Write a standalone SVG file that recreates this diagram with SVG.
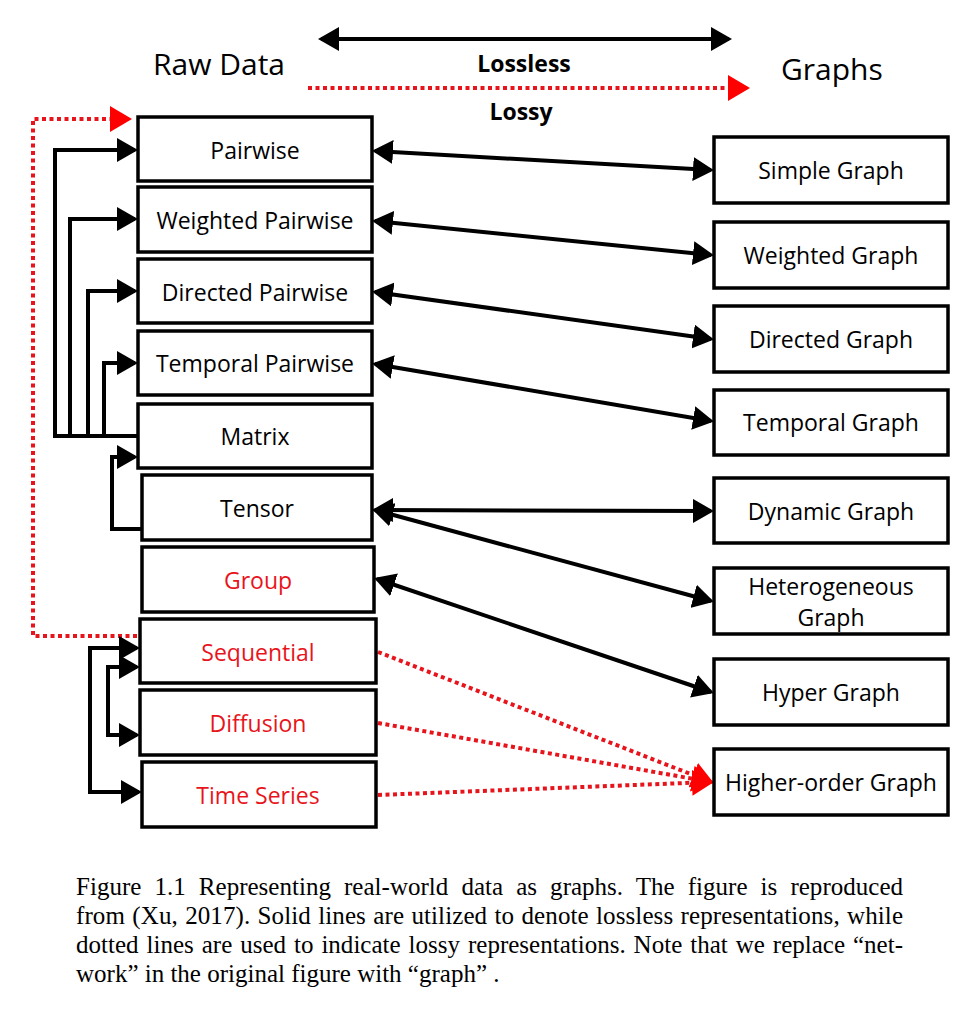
<svg xmlns="http://www.w3.org/2000/svg" width="968" height="1026" viewBox="0 0 968 1026">
<style>
.box{fill:#fff;stroke:#000;stroke-width:3.5}
.lbl{font-family:"Open Sans","Liberation Sans",sans-serif;font-size:23px;text-anchor:middle;fill:#000}
.red{fill:#e8141c}
.hdr{font-family:"Open Sans","Liberation Sans",sans-serif;font-size:30px;fill:#000}
.bold{font-family:"Open Sans","Liberation Sans",sans-serif;font-size:23px;font-weight:bold;text-anchor:middle;fill:#000}
.solid{fill:none;stroke:#000;stroke-width:4;stroke-linejoin:miter}
.dot{fill:none;stroke:#e8141c;stroke-width:4;stroke-dasharray:4 3.5}
.cap{font-family:"Liberation Serif","Times New Roman",serif;font-size:25px;fill:#000}
</style>
<defs>
<marker id="ah" viewBox="0 0 21 24" refX="18" refY="12" markerWidth="21" markerHeight="24" markerUnits="userSpaceOnUse" orient="auto-start-reverse"><path d="M0,0 L21,12 L0,24 z" fill="#000"/></marker>
<marker id="ahr" viewBox="0 0 22 26" refX="19" refY="13" markerWidth="22" markerHeight="26" markerUnits="userSpaceOnUse" orient="auto-start-reverse"><path d="M0,0 L22,13 L0,26 z" fill="#f00"/></marker>
</defs>

<g id="headers">
<text class="hdr" x="153" y="75">Raw Data</text>
<text class="hdr" x="781" y="80">Graphs</text>
<text class="bold" x="524" y="72">Lossless</text>
<text class="bold" x="521" y="120">Lossy</text>
</g>

<g id="connectors">
<path class="solid" d="M321,39 L729,39" marker-start="url(#ah)" marker-end="url(#ah)"/>
<path class="dot" d="M308,88 L747,88" marker-end="url(#ahr)"/>
<path class="dot" d="M137,636 H33 V119 H129" marker-end="url(#ahr)"/>
<path class="solid" d="M138,436 H55 V150 H135" marker-end="url(#ah)"/>
<path class="solid" d="M70,436 V219 H135" marker-end="url(#ah)"/>
<path class="solid" d="M88,436 V291 H135" marker-end="url(#ah)"/>
<path class="solid" d="M104,436 V363 H135" marker-end="url(#ah)"/>
<path class="solid" d="M142,529 H112 V457 H135" marker-end="url(#ah)"/>
<path class="solid" d="M137,648 H90 V792 H139" marker-start="url(#ah)" marker-end="url(#ah)"/>
<path class="solid" d="M137,667 H108 V735 H137" marker-start="url(#ah)" marker-end="url(#ah)"/>
<path class="solid" d="M375,151 L711,170" marker-start="url(#ah)" marker-end="url(#ah)"/>
<path class="solid" d="M375,221 L711,255" marker-start="url(#ah)" marker-end="url(#ah)"/>
<path class="solid" d="M375,292 L711,339" marker-start="url(#ah)" marker-end="url(#ah)"/>
<path class="solid" d="M375,364 L711,421" marker-start="url(#ah)" marker-end="url(#ah)"/>
<path class="solid" d="M375,510 L711,511" marker-start="url(#ah)" marker-end="url(#ah)"/>
<path class="solid" d="M375,510 L711,601" marker-start="url(#ah)" marker-end="url(#ah)"/>
<path class="solid" d="M377,579 L711,692" marker-start="url(#ah)" marker-end="url(#ah)"/>
<path class="dot" d="M378,652 L711,782" marker-end="url(#ahr)"/>
<path class="dot" d="M378,723 L711,782" marker-end="url(#ahr)"/>
<path class="dot" d="M378,795 L711,782" marker-end="url(#ahr)"/>
</g>

<g id="pairwise"><rect class="box" x="138" y="117" width="234" height="64"/><text class="lbl" x="255" y="159">Pairwise</text></g>
<g id="weighted-pairwise"><rect class="box" x="138" y="187" width="234" height="65"/><text class="lbl" x="255" y="229">Weighted Pairwise</text></g>
<g id="directed-pairwise"><rect class="box" x="138" y="259" width="234" height="64"/><text class="lbl" x="255" y="301">Directed Pairwise</text></g>
<g id="temporal-pairwise"><rect class="box" x="138" y="331" width="234" height="64"/><text class="lbl" x="255" y="372">Temporal Pairwise</text></g>
<g id="matrix"><rect class="box" x="138" y="404" width="234" height="64"/><text class="lbl" x="255" y="445">Matrix</text></g>
<g id="tensor"><rect class="box" x="142" y="475" width="230" height="65"/><text class="lbl" x="257" y="517">Tensor</text></g>
<g id="group"><rect class="box" x="142" y="547" width="232" height="65"/><text class="lbl red" x="258" y="589">Group</text></g>
<g id="sequential"><rect class="box" x="140" y="619" width="236" height="64"/><text class="lbl red" x="258" y="661">Sequential</text></g>
<g id="diffusion"><rect class="box" x="140" y="690" width="236" height="65"/><text class="lbl red" x="258" y="732">Diffusion</text></g>
<g id="time-series"><rect class="box" x="142" y="762" width="234" height="65"/><text class="lbl red" x="258" y="804">Time Series</text></g>

<g id="simple-graph"><rect class="box" x="714" y="137" width="234" height="66"/><text class="lbl" x="831" y="179">Simple Graph</text></g>
<g id="weighted-graph"><rect class="box" x="714" y="222" width="234" height="66"/><text class="lbl" x="831" y="264">Weighted Graph</text></g>
<g id="directed-graph"><rect class="box" x="714" y="306" width="234" height="66"/><text class="lbl" x="831" y="348">Directed Graph</text></g>
<g id="temporal-graph"><rect class="box" x="714" y="390" width="234" height="65"/><text class="lbl" x="831" y="431">Temporal Graph</text></g>
<g id="dynamic-graph"><rect class="box" x="714" y="478" width="234" height="65"/><text class="lbl" x="831" y="520">Dynamic Graph</text></g>
<g id="heterogeneous-graph"><rect class="box" x="714" y="568" width="234" height="66"/><text class="lbl" x="831" y="595">Heterogeneous</text><text class="lbl" x="831" y="626">Graph</text></g>
<g id="hyper-graph"><rect class="box" x="714" y="659" width="234" height="66"/><text class="lbl" x="831" y="701">Hyper Graph</text></g>
<g id="higher-order-graph"><rect class="box" x="714" y="749" width="234" height="66"/><text class="lbl" x="831" y="791">Higher-order Graph</text></g>

<g id="caption">
<text class="cap" x="76" y="895" word-spacing="6.8" textLength="827" lengthAdjust="spacing">Figure 1.1 Representing real-world data as graphs. The figure is reproduced</text>
<text class="cap" x="76" y="924" word-spacing="1" textLength="827" lengthAdjust="spacing">from (Xu, 2017). Solid lines are utilized to denote lossless representations, while</text>
<text class="cap" x="76" y="953" word-spacing="1.7" textLength="827" lengthAdjust="spacing">dotted lines are used to indicate lossy representations. Note that we replace “net-</text>
<text class="cap" x="76" y="982">work” in the original figure with “graph” .</text>
</g>
</svg>
